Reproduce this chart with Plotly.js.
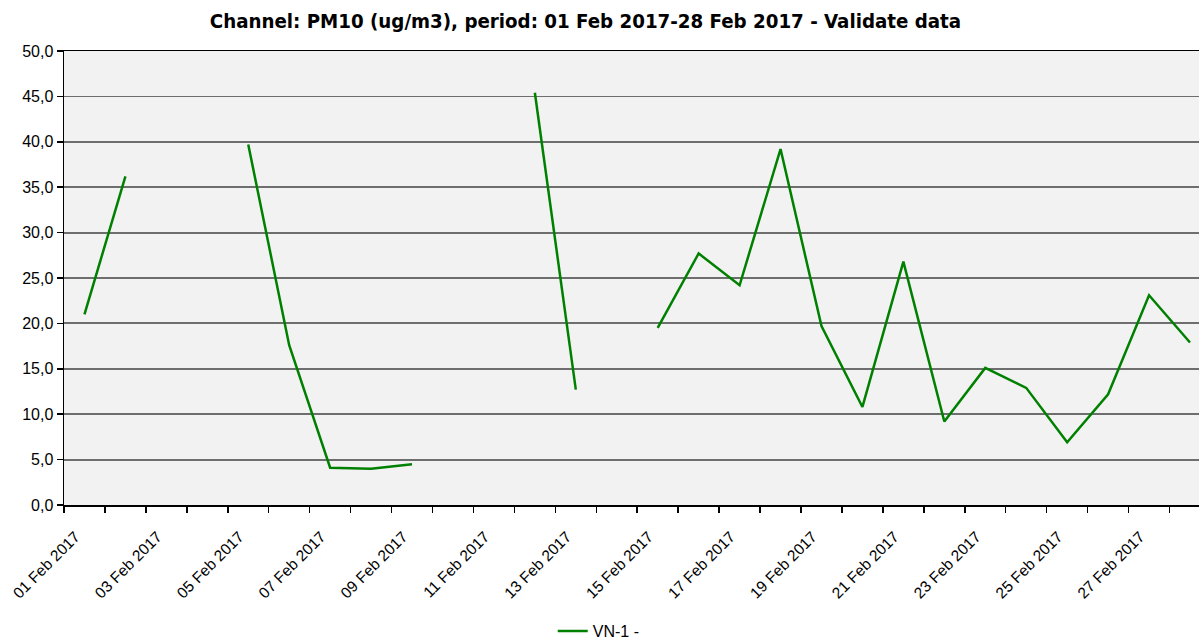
<!DOCTYPE html>
<html>
<head>
<meta charset="utf-8">
<script src="https://cdn.plot.ly/plotly-3.0.1.min.js"></script>
<style>
  html, body { margin: 0; padding: 0; background: #fff; }
  #chart { width: 1199px; height: 639px; }
</style>
</head>
<body>
<div id="chart"></div>
<script>
// Daily PM10 values (ug/m3), Feb 2017 - null where no validated data
const days = [
  '01 Feb 2017', '02 Feb 2017', '03 Feb 2017', '04 Feb 2017', '05 Feb 2017', '06 Feb 2017', '07 Feb 2017',
  '08 Feb 2017', '09 Feb 2017', '10 Feb 2017', '11 Feb 2017', '12 Feb 2017', '13 Feb 2017', '14 Feb 2017',
  '15 Feb 2017', '16 Feb 2017', '17 Feb 2017', '18 Feb 2017', '19 Feb 2017', '20 Feb 2017', '21 Feb 2017',
  '22 Feb 2017', '23 Feb 2017', '24 Feb 2017', '25 Feb 2017', '26 Feb 2017', '27 Feb 2017', '28 Feb 2017'
];
const pm10 = [
  21.0, 36.2, null, null, 39.7, 17.6, 4.1,
  4.0, 4.5, null, null, 45.4, 12.7, null,
  19.5, 27.7, 24.2, 39.2, 19.7, 10.8, 26.8,
  9.2, 15.1, 12.9, 6.9, 12.2, 23.1, 17.9
];
const seriesName = 'VN-1 -';

// category positions along the axis, labels every other day
const xPos = days.map((d, i) => i);
const labelIdx = xPos.filter(i => i % 2 === 0);
const labelText = labelIdx.map(i => days[i]);

const trace = {
  x: xPos,
  y: pm10,
  mode: 'lines',
  name: seriesName,
  connectgaps: false,
  line: { color: '#008000', width: 2.5 },
  hoverinfo: 'skip'
};

const axisFont = { family: 'Liberation Sans, Arial, sans-serif', size: 16, color: '#000' };

const layout = {
  width: 1199,
  height: 639,
  margin: { l: 64, r: 0, t: 51, b: 134, autoexpand: false },
  paper_bgcolor: '#ffffff',
  plot_bgcolor: '#f2f2f2',
  title: {
    text: '<b>Channel: PM10 (ug/m3), period: 01 Feb 2017-28 Feb 2017 - Validate data</b>',
    font: { family: 'DejaVu Sans Condensed, DejaVu Sans, sans-serif', size: 20.3, color: '#000' },
    xref: 'container', x: 0.4883, xanchor: 'center',
    yref: 'container', y: 0.968, yanchor: 'middle'
  },
  showlegend: true,
  legend: {
    orientation: 'h',
    xref: 'container', x: 0.461, xanchor: 'left',
    yref: 'container', y: 0.0125, yanchor: 'middle',
    font: axisFont,
    bgcolor: 'rgba(0,0,0,0)'
  },
  xaxis: {
    range: [-0.5, 27.22],
    tickmode: 'array',
    tickvals: labelIdx,
    ticktext: labelText,
    tickangle: -45,
    ticks: '',
    ticklabelstandoff: 15,
    ticklabelshift: -9,
    tickfont: { family: 'Liberation Sans, Arial, sans-serif', size: 15.5, color: '#000' },
    showgrid: false,
    zeroline: false,
    showline: true,
    linecolor: '#000',
    linewidth: 1.5,
    mirror: true,
    minor: {
      tick0: -0.5,
      dtick: 1,
      ticks: 'outside',
      ticklen: 6,
      tickwidth: 1.5,
      tickcolor: '#000',
      showgrid: false
    }
  },
  yaxis: {
    range: [0, 50],
    dtick: 5,
    tick0: 0,
    tickformat: '.1f',
    ticks: 'outside',
    ticklen: 6,
    tickwidth: 1.5,
    tickcolor: '#000',
    tickfont: axisFont,
    showgrid: true,
    gridcolor: '#6e6e6e',
    gridwidth: 1.8,
    zeroline: false,
    showline: true,
    linecolor: '#000',
    linewidth: 1.5
  },
  separators: ',.'
};

Plotly.newPlot('chart', [trace], layout, { displayModeBar: false, staticPlot: true });
</script>
</body>
</html>
